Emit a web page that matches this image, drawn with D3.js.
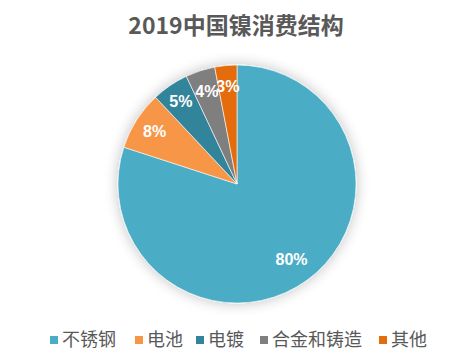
<!DOCTYPE html>
<html>
<head>
<meta charset="utf-8">
<script src="https://cdn.jsdelivr.net/npm/d3@7"></script>
<style>
  body { margin: 0; background: #fff; }
  text { font-family: "Noto Sans CJK SC", "Noto Sans", sans-serif; }
</style>
</head>
<body>
<svg width="474" height="362"></svg>
<script>
var categories = ["不锈钢", "电池", "电镀", "合金和铸造", "其他"];
var values = [80, 8, 5, 4, 3];
var colors = ["#4BACC6", "#F79646", "#31849B", "#7F7F7F", "#E46C0A"];

var svg = d3.select("svg");
var cx = 237, cy = 184, radius = 119;

// soft glow behind the pie
var defs = svg.append("defs");
var f = defs.append("filter").attr("id", "shadow")
    .attr("x", "-30%").attr("y", "-30%").attr("width", "160%").attr("height", "160%");
f.append("feGaussianBlur").attr("in", "SourceAlpha").attr("stdDeviation", 7).attr("result", "b");
f.append("feComponentTransfer").append("feFuncA").attr("type", "linear").attr("slope", 0.25);
var m = f.append("feMerge");
m.append("feMergeNode");
m.append("feMergeNode").attr("in", "SourceGraphic");

svg.append("text")
    .attr("x", 236).attr("y", 34)
    .attr("text-anchor", "middle")
    .style("font-size", "23px").style("font-weight", "bold")
    .style("fill", "#595959")
    .text("2019中国镍消费结构");

var pie = d3.pie().sort(null).value(function (d) { return d; });
var arcs = pie(values);
var arc = d3.arc().innerRadius(0).outerRadius(radius);

var g = svg.append("g").attr("transform", "translate(" + cx + "," + cy + ")");

g.append("g").attr("filter", "url(#shadow)")
  .selectAll("path")
  .data(arcs)
  .enter()
  .append("path")
    .attr("d", arc)
    .style("fill", function (d, i) { return colors[i]; })
    .style("stroke", "#fff")
    .style("stroke-width", 0.6);

var labelR = [0.78, 0.82, 0.84, 0.82, 0.82];
g.selectAll(".lbl")
  .data(arcs)
  .enter()
  .append("text")
    .attr("class", "lbl")
    .attr("transform", function (d, i) {
        var a = (d.startAngle + d.endAngle) / 2;
        var r = radius * labelR[i];
        return "translate(" + (Math.sin(a) * r) + "," + (-Math.cos(a) * r) + ")";
    })
    .attr("text-anchor", "middle")
    .attr("dy", "0.35em")
    .style("font-family", "'Liberation Sans', Arial, sans-serif")
    .style("font-size", "16px").style("font-weight", "bold")
    .style("fill", "#fff")
    .text(function (d) { return d.value + "%"; });

// legend
var legendX = [50, 135, 196, 260, 379];
var lg = svg.append("g").selectAll("g")
  .data(categories)
  .enter()
  .append("g")
    .attr("transform", function (d, i) { return "translate(" + legendX[i] + ",340)"; });
lg.append("rect")
    .attr("x", 0).attr("y", -4).attr("width", 8).attr("height", 8)
    .style("fill", function (d, i) { return colors[i]; });
lg.append("text")
    .attr("x", 12).attr("dy", "0.35em")
    .style("font-size", "18px")
    .style("fill", "#595959")
    .text(function (d) { return d; });
</script>
</body>
</html>
